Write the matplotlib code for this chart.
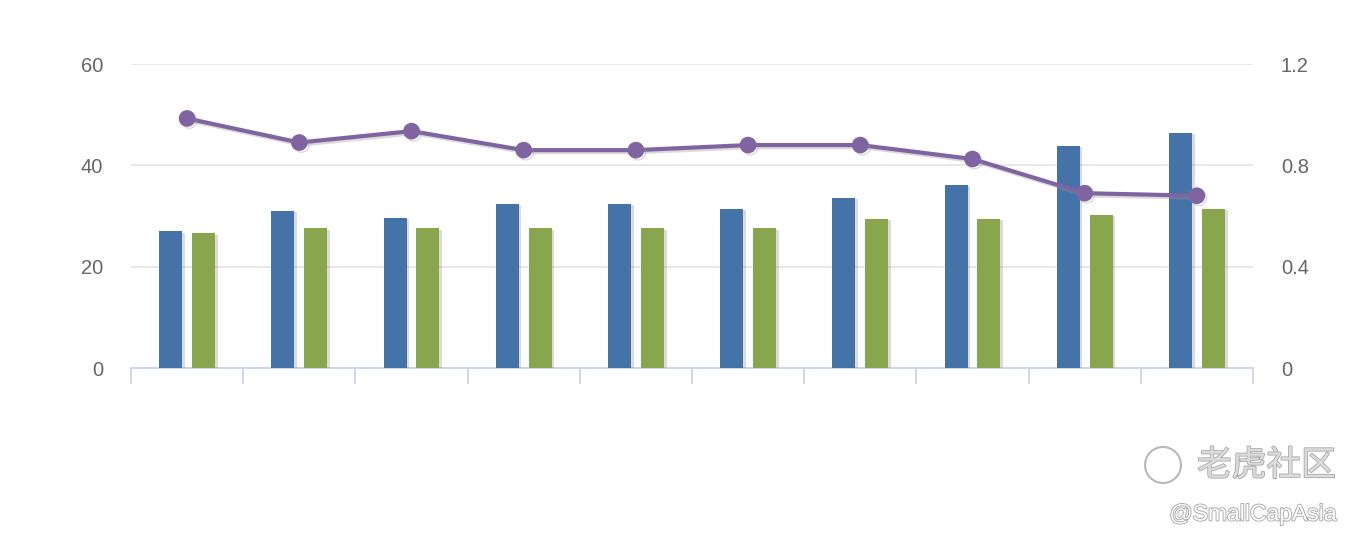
import matplotlib.pyplot as plt
import matplotlib.patheffects as pe
from matplotlib.patches import Ellipse
import numpy as np

# data
categories = ['1', '2', '3', '4', '5', '6', '7', '8', '9', '10']
blue_vals = [27.0, 31.0, 29.6, 32.4, 32.4, 31.4, 33.6, 36.1, 43.8, 46.4]
green_vals = [26.6, 27.6, 27.6, 27.6, 27.6, 27.6, 29.4, 29.4, 30.2, 31.4]
line_vals = [0.985, 0.89, 0.935, 0.86, 0.86, 0.88, 0.88, 0.825, 0.69, 0.68]

left_ticks = [0, 20, 40, 60]
right_ticks = [0, 0.4, 0.8, 1.2]
right_labels = ['0', '0.4', '0.8', '1.2']

plt.rcParams['font.family'] = ['Liberation Sans', 'DejaVu Sans']

fig = plt.figure(figsize=(13.6, 5.44), dpi=100)
ax = fig.add_axes([131/1360, 1-368/544, (1253-131)/1360, (368-64)/544])
ax2 = ax.twinx()

x = np.arange(len(categories))
w = 0.205
shadow = [pe.SimplePatchShadow(offset=(2, -1), shadow_rgbFace='#999999', alpha=0.35), pe.Normal()]
ax.bar(x - 0.147, blue_vals, w, color='#4572a7', zorder=3, path_effects=shadow)
ax.bar(x + 0.147, green_vals, w, color='#89a54e', zorder=3, path_effects=shadow)

ax.set_xlim(-0.5, len(categories) - 0.5)
ax.set_ylim(0, 60)
ax.set_yticks(left_ticks)
ax.set_yticklabels([str(t) for t in left_ticks])
ax.grid(axis='y', color='#e6e6e6', linewidth=1.3, zorder=0)
ax.set_axisbelow(True)

ax.set_xticks(np.arange(len(categories) + 1) - 0.5)
ax.set_xticklabels([])
ax.tick_params(axis='x', length=11.5, width=1.3, color='#ccd6eb')
ax.tick_params(axis='y', length=0, pad=20, labelsize=14.5, labelcolor='#666666')

for s in ['top', 'left', 'right']:
    ax.spines[s].set_visible(False)
ax.spines['bottom'].set_color('#ccd6eb')
ax.spines['bottom'].set_linewidth(1.5)

lshadow = [pe.SimpleLineShadow(offset=(1.5, -1.5), shadow_color='#999999', alpha=0.35), pe.Normal()]
ax2.plot(x, line_vals, color='#8064a2', linewidth=3, marker='o', markersize=11,
         zorder=4, path_effects=lshadow)
ax2.set_ylim(0, 1.2)
ax2.set_yticks(right_ticks)
ax2.set_yticklabels(right_labels)
ax2.tick_params(axis='y', length=0, pad=20, labelsize=14.5, labelcolor='#666666')
for s in ax2.spines.values():
    s.set_visible(False)

# watermark
fig.text(1197/1360, 1-466/544, '老虎社区', fontsize=25, color='#dcdcdc',
         family=['Noto Sans CJK SC', 'DejaVu Sans'], ha='left', va='center',
         path_effects=[pe.withStroke(linewidth=1.2, foreground='#a8a8a8')])
fig.text(1336/1360, 1-514/544, '@SmallCapAsia', fontsize=16.5, color='#ffffff',
         ha='right', va='center', path_effects=[pe.withStroke(linewidth=1.3, foreground='#a8a8a8')])
circ = Ellipse((1163/1360, 1-465/544), 36/1360, 36/544, transform=fig.transFigure,
               fill=False, edgecolor='#b8b8b8', linewidth=1.5)
fig.add_artist(circ)

fig.savefig('out.png', dpi=100, facecolor='white')
